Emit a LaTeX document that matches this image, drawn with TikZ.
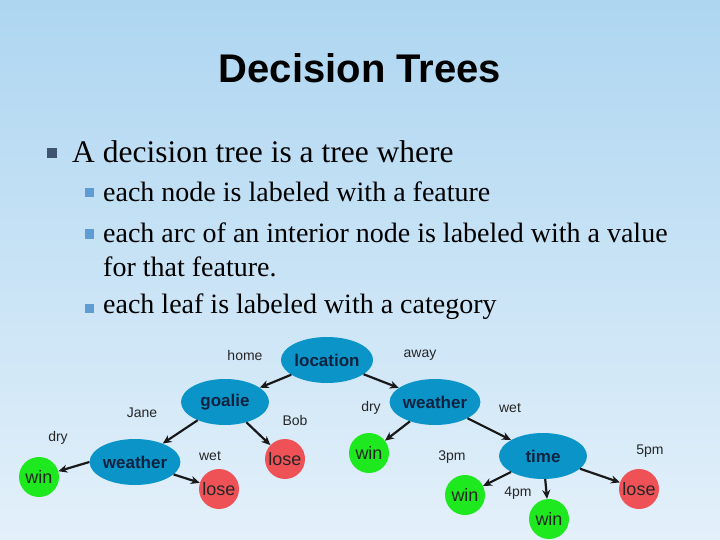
\documentclass[tikz,border=0pt]{standalone}
\usepackage{fontspec}
\setmainfont{Liberation Serif}
\newfontfamily\arial{Liberation Sans}
\usetikzlibrary{arrows.meta,shapes.geometric}
\definecolor{bgtop}{HTML}{AED6F1}
\definecolor{bgbot}{HTML}{E3F0FA}
\definecolor{ell}{HTML}{0A94C8}
\definecolor{gr}{HTML}{1EE81E}
\definecolor{rd}{HTML}{EE5257}
\definecolor{navy}{HTML}{0F2340}
\definecolor{bul1}{HTML}{3E5470}
\definecolor{bul2}{HTML}{5E9CD3}
\begin{document}
\begin{tikzpicture}[x=1pt,y=-1pt,
  feat/.style={ellipse,fill=ell,minimum width=88pt,minimum height=46pt,inner sep=0pt,font=\arial\bfseries\fontsize{17}{20}\selectfont,text=navy},
  winn/.style={circle,fill=gr,minimum size=40pt,inner sep=0pt,font=\arial\fontsize{18}{20}\selectfont,text=black!85},
  losen/.style={circle,fill=rd,minimum size=40pt,inner sep=0pt,font=\arial\fontsize{18}{20}\selectfont,text=black!85},
  lab/.style={font=\arial\fontsize{14}{16}\selectfont,text=black!85},
  arr/.style={-{Stealth[length=9pt,width=8pt]},line width=2.2pt,black!90},
  txt/.style={anchor=west,font=\fontsize{28}{30}\selectfont,inner sep=0pt}]
\shade[top color=bgtop,bottom color=bgbot] (0,0) rectangle (720,540);
\useasboundingbox (0,0) rectangle (720,540);
\node[font=\arial\bfseries\fontsize{40}{44}\selectfont] (title) at (360,68) {Decision Trees};
\node[fill=bul1,minimum size=10pt,inner sep=0pt] (b0) at (52,153) {};
\node[txt,font=\fontsize{31.5}{34}\selectfont] (t0) at (72,152) {A decision tree is a tree where};
\node[fill=bul2,minimum size=9pt,inner sep=0pt] (b1) at (89,193) {};
\node[txt] (t1) at (103,192) {each node is labeled with a feature};
\node[fill=bul2,minimum size=9pt,inner sep=0pt] (b2) at (89,234) {};
\node[txt] (t2) at (103,233) {each arc of an interior node is labeled with a value};
\node[txt] (t2b) at (103,267) {for that feature.};
\node[fill=bul2,minimum size=9pt,inner sep=0pt] (b3) at (89,308) {};
\node[txt] (t3) at (103,307) {each leaf is labeled with a category};

\node[feat] (loc) at (327,360) {location};
\node[feat] (goal) at (225,402) {goalie};
\node[feat] (wl) at (135,462) {weather};
\node[winn] (w1) at (39,477) {win};
\node[losen] (l1) at (219,489) {lose};
\node[losen] (l2) at (285,459) {lose};
\node[feat] (wr) at (435,402) {weather};
\node[winn] (w2) at (369,453) {win};
\node[feat] (time) at (543,456) {time};
\node[winn] (w3) at (465,495) {win};
\node[winn] (w4) at (549,519) {win};
\node[losen] (l3) at (639,489) {lose};

\draw[arr] (loc) -- (goal);
\draw[arr] (loc) -- (wr);
\draw[arr] (goal) -- (wl);
\draw[arr] (goal) -- (l2);
\draw[arr] (wl.west) -- (w1);
\draw[arr] (wl) -- (l1);
\draw[arr] (wr) -- (w2);
\draw[arr] (wr) -- (time);
\draw[arr] (time) -- (w3);
\draw[arr] (time) -- (w4);
\draw[arr] (time) -- (l3);

\node[lab] (lh) at (245,355) {home};
\node[lab] (la) at (420,355) {away};
\node[lab] (lj) at (142,413) {Jane};
\node[lab] (lb) at (295,420) {Bob};
\node[lab] (ld1) at (58,438) {dry};
\node[lab] (lw1) at (210,456) {wet};
\node[lab] (ld2) at (371,408) {dry};
\node[lab] (lw2) at (510,408) {wet};
\node[lab] (l3p) at (452,457) {3pm};
\node[lab] (l4p) at (518,493) {4pm};
\node[lab] (l5p) at (650,451) {5pm};
\end{tikzpicture}
\end{document}
